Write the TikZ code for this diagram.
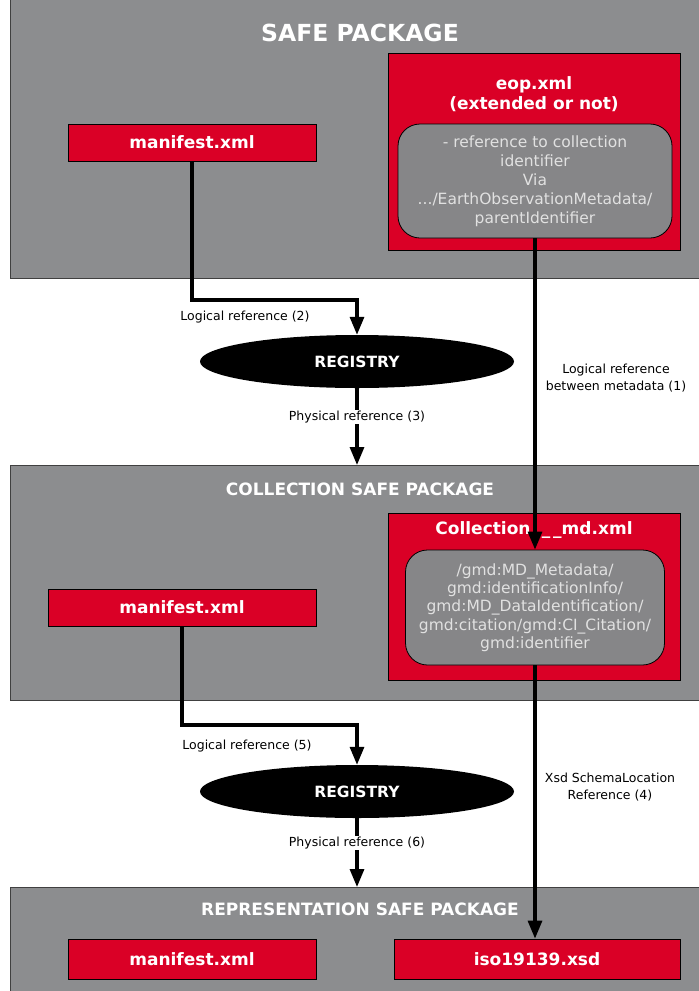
\documentclass[tikz,border=0pt]{standalone}
\usepackage{fontspec}
\setmainfont{DejaVu Sans}
\usetikzlibrary{shapes.geometric,arrows.meta}

\definecolor{pkggray}{RGB}{140,141,143}
\definecolor{innergray}{RGB}{134,134,136}
\definecolor{safered}{RGB}{218,0,38}
\definecolor{softtext}{RGB}{225,225,225}

\begin{document}
\begin{tikzpicture}[x=1pt,y=-1pt,
	package/.style={draw=black!75,fill=pkggray,line width=0.8pt},
	pkgtitle/.style={text=white,font=\bfseries\fontsize{17}{20}\selectfont},
	redbox/.style={draw=black,fill=safered,line width=0.8pt,inner sep=0pt},
	redtext/.style={text=white,align=center,font=\bfseries\fontsize{17}{20}\selectfont},
	innerbox/.style={draw=black,fill=innergray,line width=0.8pt,rounded corners=22pt,text=softtext,align=center,inner sep=0pt},
	registry/.style={ellipse,fill=black,text=white,inner sep=0pt,minimum width=314pt,minimum height=53pt,font=\bfseries\fontsize{15.5}{18}\selectfont},
	reflabel/.style={align=center,font=\fontsize{12.5}{17}\selectfont},
	refarrow/.style={-{Triangle[length=18pt,width=14pt]},line width=3.2pt}]
	\useasboundingbox (0,0) rectangle (699,991);
	\fill[white] (0,0) rectangle (699,991);

	% safe package
	\draw[package] (10,-5) rectangle (712,278);
	\node[pkgtitle,font=\bfseries\fontsize{23.5}{28}\selectfont] (safetitle) at (360,33) {SAFE PACKAGE};
	\node[redbox,minimum width=248pt,minimum height=37pt,redtext] (man1) at (192,142.5) {manifest.xml};
	\node[redbox,minimum width=292pt,minimum height=197pt] (eop) at (534,151.5) {};
	\node[redtext] (eoptitle) at (534,94) {eop.xml\\(extended or not)};
	\node[innerbox,minimum width=274pt,minimum height=114pt,font=\fontsize{15.5}{19}\selectfont] (eopin) at (535,181)
		{- reference to collection\\identifier\\Via\\.../EarthObservationMetadata/\\parentIdentifier};

	% first registry
	\node[registry] (reg1) at (357,361.5) {REGISTRY};
	\coordinate (bend1) at (357,300);
	\draw[refarrow] (man1.south) |- (bend1) -- (reg1.north);
	\node[reflabel] (lref2) at (245,317) {Logical reference (2)};

	% collection safe package
	\draw[package] (10,465) rectangle (712,700);
	\node[pkgtitle] (coltitle) at (360,489) {COLLECTION SAFE PACKAGE};
	\node[redbox,minimum width=268pt,minimum height=37pt,redtext] (man2) at (182,607.5) {manifest.xml};
	\node[redbox,minimum width=292pt,minimum height=167pt] (colmd) at (534,596.5) {};
	\node[redtext] (colmdtitle) at (534,530) {Collection\_\,\_\,\_md.xml};
	\node[innerbox,minimum width=259pt,minimum height=115pt,font=\fontsize{15.5}{18.3}\selectfont] (colin) at (535,607.5)
		{/gmd:MD\_Metadata/\\gmd:identificationInfo/\\gmd:MD\_DataIdentification/\\gmd:citation/gmd:CI\_Citation/\\gmd:identifier};

	\draw[refarrow] (reg1.south) -- node[reflabel,fill=white,pos=0.37,inner sep=1pt] (pref3) {Physical reference (3)} (reg1.south |- 0,465);
	\draw[refarrow] (eopin.south) -- (eopin.south |- colin.north);
	\node[reflabel] (lref1) at (616,378) {Logical reference\\between metadata (1)};

	% second registry
	\node[registry] (reg2) at (357,791.5) {REGISTRY};
	\coordinate (bend2) at (357,725);
	\draw[refarrow] (man2.south) |- (bend2) -- (reg2.north);
	\node[reflabel] (lref5) at (247,746) {Logical reference (5)};

	% representation safe package
	\draw[package] (10,887) rectangle (712,1000);
	\node[pkgtitle] (reptitle) at (360,909) {REPRESENTATION SAFE PACKAGE};
	\node[redbox,minimum width=248pt,minimum height=40pt,redtext] (man3) at (192,959) {manifest.xml};
	\node[redbox,minimum width=286pt,minimum height=40pt,redtext] (iso) at (537,959) {iso19139.xsd};

	\draw[refarrow] (reg2.south) -- node[reflabel,fill=white,pos=0.36,inner sep=1pt] (pref6) {Physical reference (6)} (reg2.south |- 0,887);
	\draw[refarrow] (colin.south) -- (colin.south |- iso.north);
	\node[reflabel] (xref4) at (610,787) {Xsd SchemaLocation\\Reference (4)};
\end{tikzpicture}
\end{document}
